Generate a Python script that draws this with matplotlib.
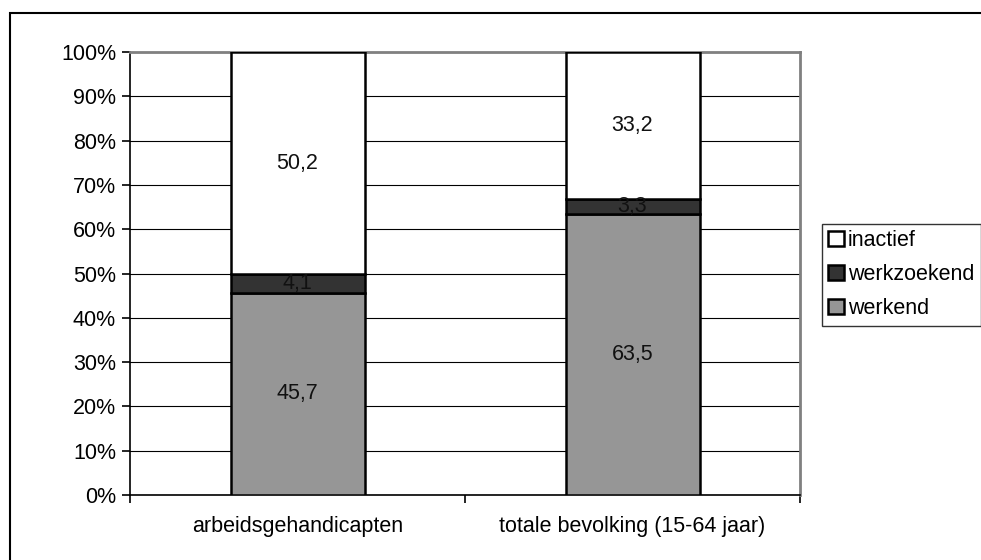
import matplotlib.pyplot as plt
import numpy as np
from matplotlib.patches import Rectangle

plt.rcParams['font.family'] = ['Liberation Sans', 'DejaVu Sans']

# data
categories = ['arbeidsgehandicapten', 'totale bevolking (15-64 jaar)']
werkend = [45.7, 63.5]
werkzoekend = [4.1, 3.3]
inactief = [50.2, 33.2]
series_names = ['werkend', 'werkzoekend', 'inactief']
series_colors = ['#969696', '#333333', '#ffffff']
yticks = np.arange(0, 101, 10)

FS = 15.5

fig = plt.figure(figsize=(9.81, 5.6), dpi=100)
ax = fig.add_axes([130 / 981, 65 / 560, 670 / 981, 443 / 560])

x = np.arange(len(categories))
bottom = np.zeros(len(categories))
handles = []
for name, vals, col in zip(series_names, [werkend, werkzoekend, inactief], series_colors):
    vals = np.array(vals)
    b = ax.bar(x, vals, width=0.4, bottom=bottom, color=col, edgecolor='black',
               linewidth=1.8, label=name, zorder=3)
    handles.append(b)
    for xi, v, b0 in zip(x, vals, bottom):
        ax.text(xi, b0 + v / 2, f'{v:.1f}'.replace('.', ','), ha='center', va='center',
                fontsize=FS, color='#111111', zorder=4)
    bottom += vals

ax.set_xlim(-0.5, 1.5)
ax.set_ylim(0, 100)
ax.set_yticks(yticks)
ax.set_yticklabels([f'{t}%' for t in yticks], fontsize=FS)
ax.set_xticks(x)
ax.set_xticklabels(categories, fontsize=FS)
ax.tick_params(axis='x', length=0, pad=15)
ax.set_xticks([-0.5, 0.5, 1.5], minor=True)
ax.tick_params(axis='x', which='minor', length=6, width=1.2, direction='out')
ax.tick_params(axis='y', length=6, width=1.2, direction='out', pad=4)
ax.grid(axis='y', color='black', linewidth=0.8, zorder=0)
ax.set_axisbelow(True)

for s in ['top', 'right']:
    ax.spines[s].set_color('#808080')
    ax.spines[s].set_linewidth(2)
for s in ['left', 'bottom']:
    ax.spines[s].set_color('black')
    ax.spines[s].set_linewidth(1.2)

leg = fig.legend(handles[::-1], series_names[::-1], loc='upper left',
                 bbox_to_anchor=(822 / 981, 1 - 224 / 560), fontsize=FS,
                 frameon=True, fancybox=False, edgecolor='black',
                 handlelength=0.7, handleheight=0.7, handletextpad=0.2,
                 borderpad=0.3, labelspacing=0.6, borderaxespad=0)
leg.get_frame().set_linewidth(1.0)

# outer chart frame
fig.patches.append(Rectangle((10 / 981, -0.5), 2, 1 - 13 / 560 + 0.5,
                             transform=fig.transFigure, fill=False,
                             edgecolor='black', linewidth=1.5))

fig.savefig('out.png', dpi=100)
